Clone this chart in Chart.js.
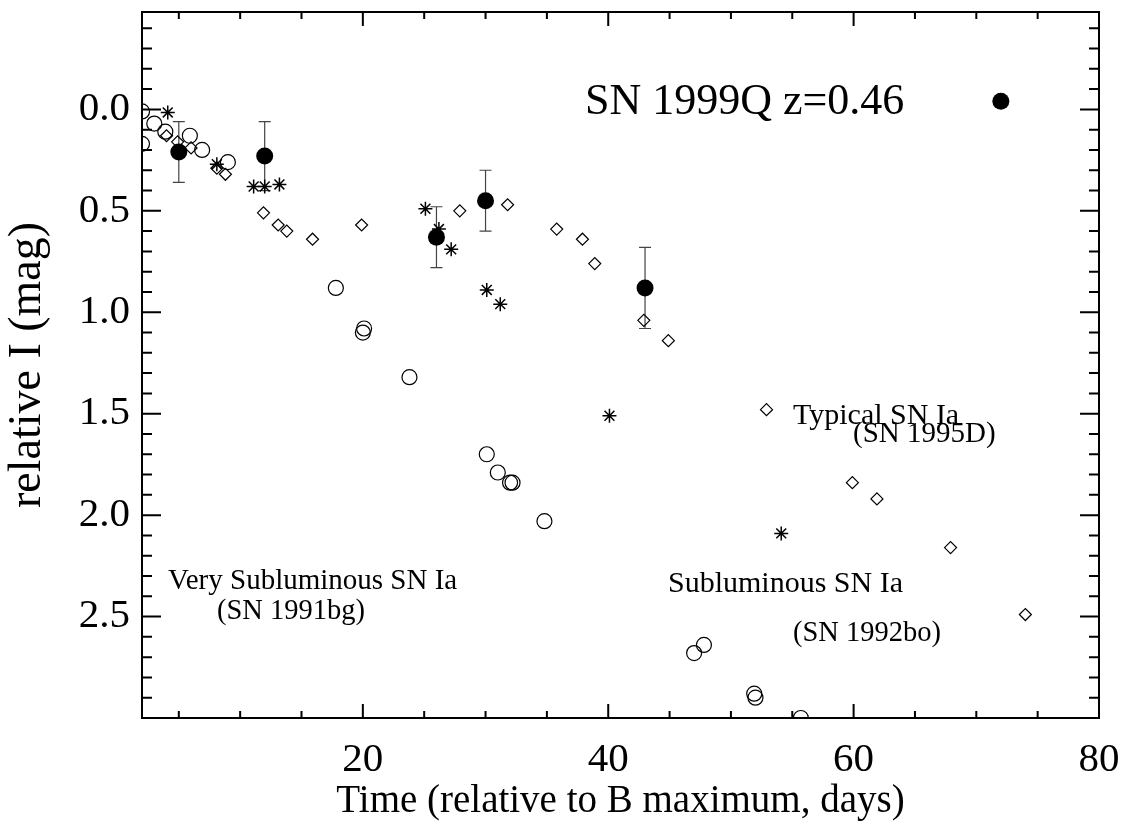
<!DOCTYPE html>
<html>
<head>
<meta charset="utf-8">
<script src="https://cdn.jsdelivr.net/npm/chart.js@4/dist/chart.umd.min.js"></script>
<style>
  html, body { margin: 0; background: #fff; }
</style>
</head>
<body>
<canvas id="chart" width="1123" height="827"></canvas>
<script>
// SN 1999Q (filled circles with error bars)
const sn1999qDays = [5, 12, 26, 30, 43];
const sn1999qMag = [0.21, 0.23, 0.63, 0.45, 0.88];
const sn1999qErr = [0.15, 0.17, 0.15, 0.15, 0.2];

// SN 1995D, typical (diamonds)
const sn1995dDays = [4.0, 4.9, 6.0, 8.1, 8.8, 11.9, 13.1, 13.8, 15.9, 19.9, 27.9, 31.8, 35.8, 37.9, 38.9, 42.9, 44.9, 52.9, 59.9, 61.9, 67.9, 74.0];
const sn1995dMag = [0.13, 0.16, 0.19, 0.29, 0.32, 0.51, 0.57, 0.6, 0.64, 0.57, 0.5, 0.47, 0.59, 0.64, 0.76, 1.04, 1.14, 1.48, 1.84, 1.92, 2.16, 2.49];

// SN 1992bo, subluminous (asterisks)
const sn1992boDays = [4.1, 8.1, 11.1, 12.0, 13.2, 25.1, 26.2, 27.2, 30.1, 31.2, 40.1, 54.1];
const sn1992boMag = [0.015, 0.27, 0.38, 0.38, 0.37, 0.49, 0.59, 0.69, 0.89, 0.96, 1.51, 2.09];

// SN 1991bg, very subluminous (open circles)
const sn1991bgDays = [2.0, 2.0, 3.0, 3.9, 5.9, 6.9, 9.0, 17.8, 20.0, 20.1, 23.8, 30.1, 31.0, 32.0, 32.2, 34.8, 47.0, 47.8, 51.9, 52.0, 55.7];
const sn1991bgMag = [0.01, 0.17, 0.07, 0.11, 0.13, 0.2, 0.26, 0.88, 1.1, 1.08, 1.32, 1.7, 1.79, 1.84, 1.84, 2.03, 2.68, 2.64, 2.88, 2.9, 3.0];

// key symbol next to the "SN 1999Q" label
const keyDays = [72];
const keyMag = [-0.04];

const xTickValues = [20, 40, 60, 80];
const yTickValues = [0, 0.5, 1, 1.5, 2, 2.5];

const SERIF = '"Liberation Serif", "DejaVu Serif", serif';

const notes = [
  { text: "SN 1999Q z=0.46", x: 585, y: 114, size: 44 },
  { text: "Typical SN Ia", x: 793, y: 424, size: 30 },
  { text: "(SN 1995D)", x: 853, y: 442, size: 29 },
  { text: "Very Subluminous SN Ia", x: 168, y: 589, size: 29 },
  { text: "(SN 1991bg)", x: 217, y: 619, size: 28.5 },
  { text: "Subluminous SN Ia", x: 668, y: 592, size: 30 },
  { text: "(SN 1992bo)", x: 793, y: 641, size: 28.5 },
];

const zip = (xs, ys) => xs.map((x, i) => ({ x, y: ys[i] }));

const errorBars = {
  id: "errorBars",
  beforeDatasetsDraw(chart) {
    const { ctx, scales } = chart;
    ctx.save();
    ctx.strokeStyle = "#444";
    ctx.lineWidth = 1.2;
    sn1999qDays.forEach((d, i) => {
      const px = scales.x.getPixelForValue(d);
      const top = scales.y.getPixelForValue(sn1999qMag[i] - sn1999qErr[i]);
      const bot = scales.y.getPixelForValue(sn1999qMag[i] + sn1999qErr[i]);
      ctx.beginPath();
      ctx.moveTo(px, top);
      ctx.lineTo(px, bot);
      ctx.moveTo(px - 6, top);
      ctx.lineTo(px + 6, top);
      ctx.moveTo(px - 6, bot);
      ctx.lineTo(px + 6, bot);
      ctx.stroke();
    });
    ctx.restore();
  },
};

const frame = {
  id: "frame",
  afterDraw(chart) {
    const { ctx, chartArea: a, scales } = chart;
    ctx.save();
    ctx.strokeStyle = "#000";
    ctx.lineWidth = 2;
    ctx.strokeRect(a.left, a.top, a.right - a.left, a.bottom - a.top);

    ctx.beginPath();
    for (let v = 5; v < 80; v += 5) {
      const px = scales.x.getPixelForValue(v);
      const len = v % 20 === 0 ? 14 : 7;
      ctx.moveTo(px, a.bottom);
      ctx.lineTo(px, a.bottom - len);
      ctx.moveTo(px, a.top);
      ctx.lineTo(px, a.top + len);
    }
    for (let k = -4; k <= 29; k++) {
      const py = scales.y.getPixelForValue(k / 10);
      const len = k % 5 === 0 ? 19 : 10;
      ctx.moveTo(a.left, py);
      ctx.lineTo(a.left + len, py);
      ctx.moveTo(a.right, py);
      ctx.lineTo(a.right - len, py);
    }
    ctx.stroke();

    ctx.fillStyle = "#000";
    ctx.textBaseline = "alphabetic";
    notes.forEach((n) => {
      ctx.font = `${n.size}px ${SERIF}`;
      ctx.fillText(n.text, n.x, n.y);
    });
    ctx.restore();
  },
};

new Chart(document.getElementById("chart"), {
  type: "scatter",
  data: {
    datasets: [
      {
        label: "SN 1991bg",
        data: zip(sn1991bgDays, sn1991bgMag),
        pointStyle: "circle",
        pointRadius: 7.5,
        borderColor: "#000",
        borderWidth: 1.2,
        backgroundColor: "rgba(0,0,0,0)",
        clip: 0,
      },
      {
        label: "SN 1995D",
        data: zip(sn1995dDays, sn1995dMag),
        pointStyle: "rectRot",
        pointRadius: 6,
        borderColor: "#000",
        borderWidth: 1.2,
        backgroundColor: "rgba(0,0,0,0)",
        clip: 0,
      },
      {
        label: "SN 1992bo",
        data: zip(sn1992boDays, sn1992boMag),
        pointStyle: "star",
        pointRadius: 7,
        borderColor: "#000",
        borderWidth: 1.5,
        clip: 0,
      },
      {
        label: "SN 1999Q",
        data: zip(sn1999qDays, sn1999qMag),
        pointStyle: "circle",
        pointRadius: 8.5,
        borderWidth: 0,
        backgroundColor: "#000",
        clip: 0,
      },
      {
        label: "key",
        data: zip(keyDays, keyMag),
        pointStyle: "circle",
        pointRadius: 8.5,
        borderWidth: 0,
        backgroundColor: "#000",
        clip: 0,
      },
    ],
  },
  options: {
    responsive: false,
    animation: false,
    events: [],
    layout: { padding: { top: 12, right: 24, left: 0, bottom: 0 } },
    plugins: { legend: { display: false }, tooltip: { enabled: false } },
    elements: { point: { hoverRadius: 0 } },
    scales: {
      x: {
        type: "linear",
        min: 2,
        max: 80,
        grid: { display: false, drawTicks: false },
        border: { display: false },
        afterBuildTicks: (s) => { s.ticks = xTickValues.map((value) => ({ value })); },
        afterFit: (s) => {
          s.height = 109;
          s.paddingLeft = 0;
          s.paddingRight = 0;
        },
        ticks: {
          color: "#000",
          padding: 18,
          maxRotation: 0,
          font: { family: SERIF, size: 41 },
          callback: (v) => String(v),
        },
        title: {
          display: true,
          text: "Time (relative to B maximum, days)",
          color: "#000",
          font: { family: SERIF, size: 39 },
          padding: { top: 0, bottom: 2 },
        },
      },
      y: {
        type: "linear",
        reverse: true,
        min: -0.48,
        max: 3.0,
        grid: { display: false, drawTicks: false },
        border: { display: false },
        afterBuildTicks: (s) => { s.ticks = yTickValues.map((value) => ({ value })); },
        afterFit: (s) => {
          s.width = 142;
          s.paddingTop = 0;
          s.paddingBottom = 0;
        },
        ticks: {
          color: "#000",
          padding: 12,
          font: { family: SERIF, size: 41 },
          callback: (v) => Number(v).toFixed(1),
        },
        title: {
          display: true,
          text: "relative I (mag)",
          color: "#000",
          font: { family: SERIF, size: 46 },
          padding: { top: 0, bottom: 0 },
        },
      },
    },
  },
  plugins: [errorBars, frame],
});
</script>
</body>
</html>
